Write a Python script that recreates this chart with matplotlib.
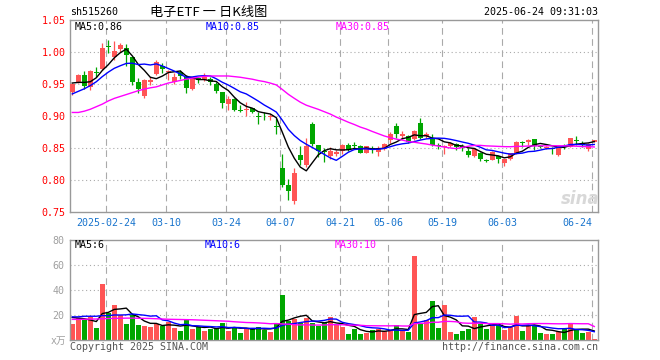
import numpy as np
import pandas as pd
import matplotlib
matplotlib.use('Agg')
import matplotlib.pyplot as plt

plt.rcParams['font.family'] = ['DejaVu Sans Mono', 'Noto Sans CJK SC']

# daily K data, 2025-02-14 .. 2025-06-24 (88 sessions)
opens = [0.938, 0.953, 0.964, 0.946, 0.969, 0.974, 1.010, 0.993, 1.005, 1.006,
         0.992, 0.954, 0.931, 0.954, 0.966, 0.979, 0.969, 0.954, 0.970, 0.962,
         0.942, 0.960, 0.957, 0.959, 0.951, 0.938, 0.919, 0.927, 0.910, 0.9094,
         0.9125, 0.9005, 0.901, 0.8985, 0.885, 0.820, 0.792, 0.767, 0.840, 0.824,
         0.888, 0.855, 0.8465, 0.838, 0.841, 0.846, 0.855, 0.855, 0.854, 0.843,
         0.850, 0.845, 0.8485, 0.863, 0.885, 0.869, 0.869, 0.864, 0.889, 0.869,
         0.866, 0.855, 0.8525, 0.854, 0.857, 0.853, 0.846, 0.838, 0.843, 0.832,
         0.832, 0.838, 0.8276, 0.833, 0.843, 0.860, 0.8604, 0.864, 0.8535, 0.851,
         0.850, 0.8395, 0.8535, 0.8526, 0.8635, 0.859, 0.8484, 0.8604]
highs = [0.952, 0.966, 0.971, 0.972, 0.977, 1.015, 1.020, 1.018, 1.014, 1.013,
         0.992, 0.960, 0.959, 0.962, 0.988, 0.983, 0.973, 0.967, 0.973, 0.965,
         0.962, 0.962, 0.968, 0.962, 0.954, 0.938, 0.931, 0.928, 0.918, 0.923,
         0.9125, 0.907, 0.906, 0.903, 0.897, 0.841, 0.802, 0.820, 0.853, 0.866,
         0.891, 0.855, 0.850, 0.852, 0.847, 0.856, 0.858, 0.860, 0.855, 0.854,
         0.853, 0.853, 0.859, 0.876, 0.889, 0.877, 0.871, 0.879, 0.897, 0.876,
         0.872, 0.858, 0.855, 0.860, 0.858, 0.856, 0.850, 0.850, 0.845, 0.834,
         0.846, 0.838, 0.834, 0.843, 0.861, 0.861, 0.864, 0.8645, 0.855, 0.8535,
         0.8525, 0.8536, 0.856, 0.8667, 0.869, 0.8615, 0.858, 0.863]
lows = [0.934, 0.952, 0.942, 0.941, 0.962, 0.972, 0.9995, 0.988, 1.0005, 0.979,
        0.949, 0.936, 0.928, 0.949, 0.965, 0.967, 0.957, 0.951, 0.959, 0.937,
        0.941, 0.952, 0.955, 0.949, 0.937, 0.9125, 0.910, 0.908, 0.907, 0.9005,
        0.905, 0.888, 0.895, 0.895, 0.873, 0.790, 0.769, 0.7625, 0.824, 0.821,
        0.853, 0.837, 0.828, 0.834, 0.838, 0.841, 0.846, 0.850, 0.842, 0.842,
        0.842, 0.838, 0.847, 0.859, 0.866, 0.865, 0.858, 0.863, 0.864, 0.866,
        0.853, 0.849, 0.841, 0.852, 0.848, 0.846, 0.837, 0.837, 0.8305, 0.828,
        0.831, 0.827, 0.822, 0.832, 0.841, 0.8515, 0.855, 0.847, 0.850, 0.8485,
        0.841, 0.8385, 0.8485, 0.8516, 0.855, 0.8526, 0.8464, 0.860]
closes = [0.950, 0.964, 0.948, 0.971, 0.968, 1.007, 1.009, 1.002, 1.011, 0.996,
          0.954, 0.942, 0.956, 0.957, 0.985, 0.974, 0.970, 0.962, 0.963, 0.945,
          0.961, 0.956, 0.962, 0.953, 0.940, 0.920, 0.9265, 0.910, 0.909, 0.912,
          0.906, 0.8995, 0.900, 0.9005, 0.883, 0.793, 0.784, 0.812, 0.831, 0.854,
          0.856, 0.846, 0.845, 0.846, 0.845, 0.855, 0.848, 0.854, 0.843, 0.853,
          0.847, 0.850, 0.857, 0.873, 0.872, 0.873, 0.860, 0.877, 0.866, 0.872,
          0.855, 0.854, 0.8535, 0.858, 0.852, 0.851, 0.8395, 0.8485, 0.834, 0.8305,
          0.845, 0.833, 0.833, 0.842, 0.860, 0.859, 0.863, 0.854, 0.852, 0.8515,
          0.849, 0.8526, 0.8525, 0.8656, 0.862, 0.855, 0.8568, 0.863]
# volume, x10k shares
volumes = [12.8, 17.3, 16.0, 18.1, 9.6, 44.8, 21.9, 28.0, 20.0, 12.8,
           20.0, 12.0, 11.2, 10.7, 12.5, 11.5, 14.7, 9.9, 7.2, 16.0,
           8.8, 10.7, 7.5, 8.8, 9.3, 13.9, 7.5, 10.7, 5.9, 9.6,
           9.6, 10.7, 8.0, 6.7, 13.3, 36.0, 15.5, 16.8, 13.3, 17.3,
           13.3, 11.5, 13.3, 18.1, 12.0, 10.7, 4.8, 9.1, 4.8, 5.3,
           8.0, 9.1, 7.5, 8.0, 12.0, 8.0, 6.4, 67.2, 12.8, 16.0,
           31.2, 9.9, 28.0, 6.4, 4.8, 7.5, 8.8, 18.1, 12.8, 9.1,
           12.0, 12.0, 8.0, 10.1, 19.2, 7.2, 12.0, 12.0, 5.3, 4.8,
           4.8, 6.7, 8.5, 13.3, 9.1, 5.9, 6.7, 1.1]

# moving-average values before enough sessions are on screen
ma5_head = [0.952, 0.953, 0.953, 0.954]
ma10_head = [0.935, 0.939, 0.943, 0.948, 0.954, 0.962, 0.969, 0.975, 0.979]
ma30_head = [0.906, 0.906, 0.908, 0.911, 0.915, 0.919, 0.924, 0.928, 0.931, 0.934,
             0.937, 0.940, 0.9425, 0.9445, 0.946, 0.949, 0.952, 0.954, 0.956, 0.958,
             0.9595, 0.961, 0.9625, 0.963, 0.963, 0.963, 0.963, 0.962, 0.961]
vma5_head = [18.0, 17.5, 17.0, 16.0]
vma10_head = [18.5, 18.5, 19.0, 19.0, 19.0, 19.5, 19.5, 20.0, 20.0]
vma30_head = [16.5, 16.5, 16.6, 16.7, 16.8, 17.0, 17.2, 17.3, 17.4, 17.5,
              17.5, 17.4, 17.3, 17.2, 17.0, 16.8, 16.6, 16.5, 16.4, 16.3,
              16.2, 16.0, 15.8, 15.6, 15.4, 15.2, 15.0, 14.6, 14.3]

tick_idx = [6, 16, 26, 35, 45, 53, 62, 72, 87]
tick_labels = ['2025-02-24', '03-10', '03-24', '04-07', '04-21', '05-06', '05-19', '06-03', '06-24']
price_ticks = [0.75, 0.80, 0.85, 0.90, 0.95, 1.00, 1.05]
vol_ticks = [20, 40, 60, 80]

RED = '#ff5555'
GREEN = '#00a600'
GRID = '#aaaaaa'
BORDER = '#999999'


def moving(values, n, head):
    m = pd.Series(values).rolling(n).mean().to_numpy()
    m[:n - 1] = head
    return m


opens = np.array(opens)
closes = np.array(closes)
highs = np.array(highs)
lows = np.array(lows)
volumes = np.array(volumes)
x = np.arange(len(closes))
colors = np.where(closes >= opens, RED, GREEN)

W, H = 660, 360
fig = plt.figure(figsize=(6.6, 3.6), dpi=100)


def fx(px):
    return px / W


def fy(py):
    return 1 - py / H


L, R = 70, 598
ax = fig.add_axes([fx(L), fy(212.3), (R - L) / W, (212.3 - 20.3) / H])
axv = fig.add_axes([fx(L), fy(340), (R - L) / W, 100 / H])

xlim = (-0.383, 87.62)
grid_x = [i - 0.36 for i in tick_idx]

for a in (ax, axv):
    a.set_xlim(*xlim)
    for s in a.spines.values():
        s.set_color(BORDER)
        s.set_linewidth(1.0)
    for gx in grid_x:
        a.axvline(gx, color=GRID, lw=0.8, linestyle=(0, (6, 4)), zorder=0)
    a.tick_params(length=0)

# price panel
ax.set_ylim(0.75, 1.05)
for p in price_ticks[1:-1]:
    ax.axhline(p, color=GRID, lw=0.8, linestyle=(0, (1, 2.5)), zorder=0)
ax.vlines(x, lows, highs, colors=colors, lw=0.9, zorder=2)
body_lo = np.minimum(opens, closes)
body_h = np.maximum(np.abs(closes - opens), 0.0012)
ax.bar(x, body_h, bottom=body_lo, width=0.78, color=colors, lw=0, zorder=3)
ax.plot(x, moving(closes, 5, ma5_head), color='black', lw=1.0, zorder=4)
ax.plot(x, moving(closes, 10, ma10_head), color='#0000ff', lw=1.0, zorder=4)
ax.plot(x, moving(closes, 30, ma30_head), color='#ff00ff', lw=1.0, zorder=4)

ax.set_yticks(price_ticks)
ax.set_yticklabels(['%.2f' % p for p in price_ticks], color='#ff0000', fontsize=7.2)
ax.tick_params(axis='y', pad=3)
ax.set_xticks(grid_x)
ax.set_xticklabels(tick_labels, color='#1874cd', fontsize=7.2)
ax.tick_params(axis='x', pad=4)
ax.get_xticklabels()[-1].set_ha('right')

# volume panel
axv.set_ylim(0, 80)
for v in vol_ticks[:-1]:
    axv.axhline(v, color=GRID, lw=0.8, linestyle=(0, (1, 2.5)), zorder=0)
axv.bar(x, volumes, width=0.83, color=colors, lw=0, zorder=2)
axv.plot(x, moving(volumes, 5, vma5_head), color='black', lw=1.0, zorder=4)
axv.plot(x, moving(volumes, 10, vma10_head), color='#0000ff', lw=1.0, zorder=4)
axv.plot(x, moving(volumes, 30, vma30_head), color='#ff00ff', lw=1.0, zorder=4)
axv.set_yticks(vol_ticks)
axv.set_yticklabels([str(v) for v in vol_ticks], color='#a0a0a0', fontsize=7.2)
axv.tick_params(axis='y', pad=4)
axv.set_xticks([])

# header and legends
fig.text(fx(70), fy(12), 'sh515260', fontsize=7.2, color='black', ha='left', va='center')
fig.text(fx(150), fy(12), '电子ETF 一 日K线图', fontsize=9.5, color='black', ha='left', va='center',
         family=['Noto Sans CJK SC', 'DejaVu Sans'])
fig.text(fx(598), fy(12), '2025-06-24 09:31:03', fontsize=7.2, color='black', ha='right', va='center')

fig.text(fx(75), fy(26.5), 'MA5:0.86', fontsize=7.2, color='black', ha='left', va='center')
fig.text(fx(205.5), fy(26.5), 'MA10:0.85', fontsize=7.2, color='#0000ff', ha='left', va='center')
fig.text(fx(335.5), fy(26.5), 'MA30:0.85', fontsize=7.2, color='#ff00ff', ha='left', va='center')

fig.text(fx(75), fy(245.5), 'MA5:6', fontsize=7.2, color='black', ha='left', va='center')
fig.text(fx(205), fy(245.5), 'MA10:6', fontsize=7.2, color='#0000ff', ha='left', va='center')
fig.text(fx(335), fy(245.5), 'MA30:10', fontsize=7.2, color='#ff00ff', ha='left', va='center')

fig.text(fx(66), fy(341), 'x万', fontsize=7, color='#a0a0a0', ha='right', va='center')
fig.text(fx(70), fy(346.5), 'Copyright 2025 SINA.COM', fontsize=7.2, color='#555555', ha='left', va='center')
fig.text(fx(598), fy(346.5), 'http://finance.sina.com.cn', fontsize=7.2, color='#555555', ha='right', va='center')

# watermark
fig.text(fx(580), fy(199), 'sina', fontsize=12, color='#d8d8d8', ha='center', va='center',
         fontweight='bold', style='italic', family=['DejaVu Sans'], zorder=1)

fig.savefig('out.png', dpi=100)
